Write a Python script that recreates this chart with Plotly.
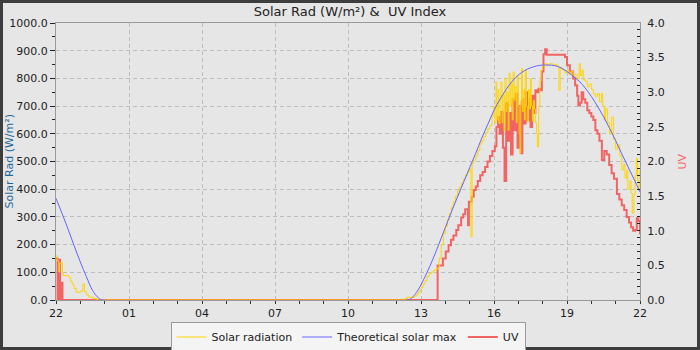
import pandas as pd
import plotly.graph_objects as go

START = "2024-06-01 22:00"

# ---- data (minutes after 22:00) ----
solar_min = [0, 3, 7, 9, 16, 18, 32, 36, 40, 44, 50, 60, 66, 70, 75, 81, 93, 101,
             855, 860, 865, 880, 885, 890, 895, 900, 905, 910, 915, 920, 925, 930, 935, 940,
             945, 950, 955, 960, 965, 970, 975, 980, 985, 990, 995, 1000, 1005, 1010, 1015,
             1020, 1023, 1026, 1030, 1035, 1040, 1045, 1050, 1055, 1060, 1065, 1070, 1075,
             1080, 1082, 1085, 1087, 1090, 1092, 1095, 1097, 1100, 1102, 1105, 1107, 1110,
             1112, 1115, 1117, 1120, 1122, 1125, 1127, 1130, 1132, 1135, 1137, 1140, 1142,
             1144, 1146, 1148, 1150, 1152, 1155, 1157, 1160, 1162, 1165, 1167, 1170, 1172,
             1175, 1177, 1180, 1182, 1185, 1187, 1190, 1193, 1196, 1200, 1205, 1210, 1215,
             1220, 1225, 1230, 1235, 1240, 1243, 1247, 1250, 1255, 1260, 1265, 1270, 1275,
             1280, 1285, 1290, 1293, 1297, 1300, 1305, 1310, 1315, 1320, 1325, 1330, 1335,
             1340, 1345, 1348, 1352, 1355, 1360, 1365, 1370, 1375, 1380, 1385, 1390, 1395,
             1400, 1403, 1407, 1410, 1415, 1418, 1421, 1425, 1428, 1431, 1434, 1437, 1440]
solar_val = [159, 141, 102, 133, 94, 88, 82, 66, 57, 42, 28, 32, 58, 30, 18, 10, 5, 0,
             0, 5, 10, 10, 15, 22, 32, 45, 58, 70, 85, 95, 100, 106, 110, 115,
             150, 200, 240, 265, 290, 312, 335, 355, 375, 393, 408, 422, 436, 450, 462,
             475, 228, 493, 505, 520, 540, 563, 575, 590, 605, 618, 630, 665,
             700, 640, 787, 650, 760, 637, 720, 787, 640, 740, 610, 800, 680,
             750, 613, 818, 700, 780, 650, 823, 720, 770, 640, 810, 700, 600,
             530, 720, 836, 680, 760, 650, 829, 700, 643, 760, 690, 800, 700,
             645, 720, 690, 640, 600, 553, 700, 790, 830, 847, 853, 850, 852,
             853, 848, 850, 845, 757, 840, 835, 830, 820, 830, 815, 825, 808,
             815, 800, 853, 810, 830, 795, 790, 770, 780, 760, 745, 735, 745,
             715, 746, 700, 650, 690, 640, 600, 660, 580, 545, 560, 520, 470,
             490, 440, 469, 400, 430, 386, 313, 380, 450, 512, 430, 397, 470]

theo_min = [0, 15, 30, 45, 60, 75, 90, 105, 115,
            868, 885, 900, 915, 930, 945, 960, 975, 990, 1005, 1020, 1035, 1050, 1065,
            1080, 1095, 1110, 1125, 1140, 1155, 1170, 1185, 1200, 1215, 1230, 1245, 1260,
            1275, 1290, 1305, 1320, 1335, 1350, 1365, 1380, 1395, 1410, 1425, 1440]
theo_val = [367, 312, 255, 195, 137, 84, 35, 7, 0,
            0, 20, 55, 100, 150, 205, 262, 318, 372, 425, 478, 530, 585, 635,
            685, 725, 760, 790, 812, 828, 838, 845, 848, 848, 846, 838, 825,
            808, 790, 765, 735, 700, 662, 620, 575, 528, 482, 437, 390]

uv_min = [0, 4, 7, 10, 14, 16, 940, 941, 954, 961, 968, 974, 980, 987, 992, 999, 1004,
          1009, 1016, 1018, 1025, 1030, 1035, 1040, 1046, 1052, 1058, 1064, 1070, 1076,
          1082, 1086, 1090, 1094, 1098, 1102, 1106, 1110, 1114, 1118, 1122, 1126, 1130,
          1134, 1138, 1142, 1146, 1150, 1154, 1158, 1162, 1166, 1170, 1174, 1178, 1182,
          1186, 1190, 1194, 1198, 1202, 1206, 1210, 1230, 1255, 1260, 1267, 1275, 1280,
          1285, 1288, 1292, 1296, 1300, 1305, 1310, 1315, 1320, 1325, 1330, 1335, 1340,
          1346, 1352, 1358, 1364, 1370, 1376, 1383, 1389, 1395, 1401, 1407, 1413, 1418,
          1423, 1428, 1432, 1436, 1440]
uv_val = [0.6, 0.0, 0.58, 0.0, 0.25, 0.0, 0.0, 0.5, 0.6, 0.7, 0.79, 0.87, 0.93, 1.01, 1.08, 1.19, 1.24,
          1.31, 1.08, 1.42, 1.49, 1.59, 1.64, 1.72, 1.8, 1.85, 1.92, 2.0, 2.08, 2.15,
          2.22, 2.5, 2.64, 2.4, 2.72, 2.2, 1.72, 2.84, 2.3, 2.7, 2.1, 2.9, 2.45,
          2.98, 2.2, 2.8, 2.12, 2.9, 2.55, 3.0, 2.6, 2.9, 2.5, 2.95, 2.7, 3.03,
          3.0, 3.05, 3.03, 3.3, 3.55, 3.62, 3.54, 3.54, 3.51, 3.39, 3.3, 3.2, 3.1,
          2.95, 2.81, 2.85, 3.0, 2.9, 2.85, 2.74, 2.7, 2.65, 2.6, 2.45, 2.4, 2.3,
          2.02, 2.15, 2.1, 1.95, 1.83, 1.75, 1.53, 1.45, 1.37, 1.3, 1.2, 1.12, 1.05,
          1.0, 1.01, 1.18, 1.14, 0.95]

tick_labels_fmt = "%H"
left_title = "Solar Rad (W/m²)"
right_title = "UV"

def to_time(mins):
    t0 = pd.Timestamp(START)
    return [t0 + pd.Timedelta(minutes=m) for m in mins]

FONT = "DejaVu Sans"
fig = go.Figure()

fig.add_trace(go.Scatter(x=to_time(uv_min), y=uv_val, name="UV", mode="lines",
                         line=dict(color="#f26464", width=2, shape="hv"),
                         yaxis="y", legendrank=3))
fig.add_trace(go.Scatter(x=to_time(solar_min), y=solar_val, name="Solar radiation", mode="lines",
                         line=dict(color="#ffd500", width=1, shape="hv"),
                         yaxis="y2", legendrank=1))
fig.add_trace(go.Scatter(x=to_time(theo_min), y=theo_val, name="Theoretical solar max", mode="lines",
                         line=dict(color="#6464ff", width=1, shape="spline"),
                         yaxis="y2", legendrank=2))

t0 = pd.Timestamp(START)
t1 = t0 + pd.Timedelta(hours=24)
W, H = 700, 350
ml, mr, mt, mb = 56, 60, 23, 50
pw, ph = W - ml - mr, H - mt - mb

fig.update_layout(
    width=W, height=H,
    margin=dict(l=ml, r=mr, t=mt, b=mb, pad=0, autoexpand=False),
    paper_bgcolor="#e6e6e6", plot_bgcolor="#e6e6e6",
    font=dict(family=FONT, size=11, color="#222222"),
    title=dict(text="Solar Rad (W/m²) &amp;\u00a0 UV Index", x=0.5, xanchor="center",
               y=1 - 11.5 / H, yanchor="middle", font=dict(size=13, color="#222222")),
    showlegend=True,
    legend=dict(orientation="h", x=0.5, xanchor="center", y=-37 / ph, yanchor="middle",
                bgcolor="#f4f4f4", bordercolor="#9a9a9a", borderwidth=1,
                font=dict(size=11), itemwidth=30, traceorder="normal"),
    xaxis=dict(type="date", range=[t0, t1], tickformat=tick_labels_fmt, automargin=False,
               tick0=t0, dtick=3 * 3600000, ticks="outside", ticklen=3, tickcolor="#333",
               showline=True, linecolor="#9a9a9a", linewidth=1, mirror=True,
               showgrid=True, gridcolor="#bdbdbd", griddash="4px,3px", gridwidth=1,
               minor=dict(dtick=3600000, tick0=t0, ticks="outside", ticklen=3, tickcolor="#333", showgrid=False),
               zeroline=False, tickfont=dict(size=11)),
    yaxis=dict(range=[0, 4], side="right", dtick=0.5, tickformat=".1f", automargin=False,
               ticks="inside", ticklen=3, tickcolor="#222",
               minor=dict(dtick=0.1, ticks="inside", ticklen=3, tickcolor="#222", showgrid=False),
               showgrid=False, showline=True, linecolor="#9a9a9a", linewidth=1,
               zeroline=False, ticklabelstandoff=4),
    yaxis2=dict(range=[0, 1000], side="left", overlaying="y", dtick=100, tickformat=".1f",
                automargin=False,
                ticks="outside", ticklen=5, tickcolor="#222",
                minor=dict(dtick=50, ticks="outside", ticklen=3, tickcolor="#222", showgrid=False),
                showgrid=True, gridcolor="#bdbdbd", griddash="4px,3px", gridwidth=1,
                showline=True, linecolor="#9a9a9a", linewidth=1, zeroline=False),
)

# axis titles placed as rotated annotations
fig.add_annotation(text=left_title, xref="paper", yref="paper", x=(9 - ml) / pw, y=0.5,
                   textangle=-90, showarrow=False, xanchor="center", yanchor="middle",
                   font=dict(size=11, color="#1f6a9c"))
fig.add_annotation(text=right_title, xref="paper", yref="paper", x=(682 - ml) / pw, y=0.5,
                   textangle=-90, showarrow=False, xanchor="center", yanchor="middle",
                   font=dict(size=11, color="#f26464"))

# outer dark frame of the image
fig.add_shape(type="rect", xref="paper", yref="paper", layer="above",
              x0=(1.5 - ml) / pw, x1=(W - 1.5 - ml) / pw,
              y0=(ph + mt - H + 1.5) / ph, y1=(ph + mt - 1.5) / ph,
              line=dict(color="#3d3d3d", width=3), fillcolor="rgba(0,0,0,0)")

fig.write_html("out.html")
